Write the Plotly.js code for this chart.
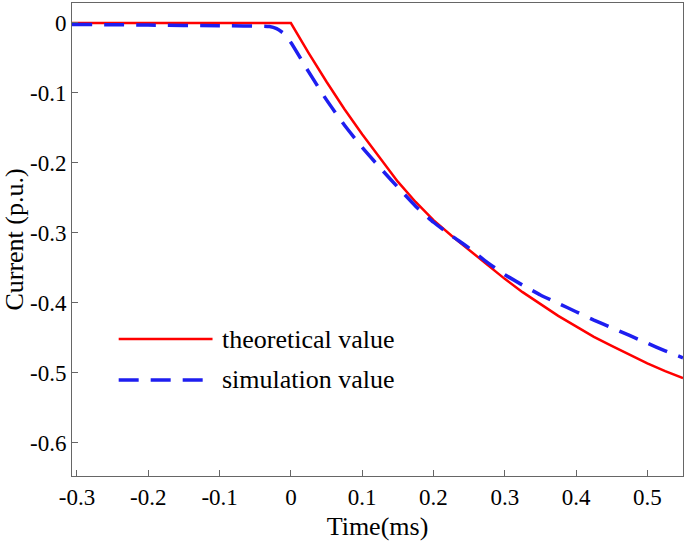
<!DOCTYPE html>
<html>
<head>
<meta charset="utf-8">
<script src="https://cdn.plot.ly/plotly-3.0.1.min.js"></script>
<style>
  html, body { margin: 0; padding: 0; background: #fff; }
  #plot { width: 685px; height: 552px; }
</style>
</head>
<body>
<div id="plot"></div>
<script>
// theoretical value (red, solid)
var theoryX = [-0.307, 0, 0.025, 0.05, 0.075, 0.1, 0.125, 0.15, 0.175, 0.2, 0.225, 0.25, 0.275,
  0.3, 0.325, 0.35, 0.375, 0.4, 0.425, 0.45, 0.475, 0.5, 0.525, 0.55];
var theoryY = [0, 0, -0.043, -0.084, -0.123, -0.159, -0.193, -0.227, -0.256, -0.282, -0.304, -0.325, -0.346,
  -0.366, -0.385, -0.402, -0.419, -0.434, -0.449, -0.462, -0.475, -0.487, -0.498, -0.508];

// simulation value (blue, dashed)
var simX = [-0.307, -0.2, -0.1, -0.03, -0.02, -0.01, 0, 0.025, 0.05, 0.075, 0.1, 0.125, 0.15, 0.175,
  0.2, 0.225, 0.25, 0.275, 0.3, 0.325, 0.35, 0.375, 0.4, 0.425, 0.45, 0.475, 0.5, 0.525, 0.55];
var simY = [-0.002, -0.003, -0.004, -0.005, -0.008, -0.015, -0.028, -0.07, -0.11, -0.146, -0.178, -0.207, -0.235, -0.262,
  -0.285, -0.304, -0.322, -0.342, -0.36, -0.375, -0.389, -0.401, -0.413, -0.425, -0.436, -0.447, -0.458, -0.469, -0.479];

var xTicks = [-0.3, -0.2, -0.1, 0, 0.1, 0.2, 0.3, 0.4, 0.5];
var yTicks = [0, -0.1, -0.2, -0.3, -0.4, -0.5, -0.6];
var legendNames = ['theoretical value', 'simulation value'];

var red = '#ff0000';
var blue = '#1e1ef0';
var serif = 'Liberation Serif, Times New Roman, serif';

var trace1 = {
  x: theoryX,
  y: theoryY,
  mode: 'lines',
  type: 'scatter',
  name: legendNames[0],
  line: { color: red, width: 2.5 }
};

var trace2 = {
  x: simX,
  y: simY,
  mode: 'lines',
  type: 'scatter',
  name: legendNames[1],
  line: { color: blue, width: 3.5, dash: '20px,12px', shape: 'spline', smoothing: 0.5 }
};

var axisCommon = {
  showgrid: false,
  zeroline: false,
  showline: true,
  linecolor: '#666',
  linewidth: 1,
  mirror: true,
  ticks: 'inside',
  ticklen: 6,
  tickcolor: '#666',
  tickfont: { family: serif, size: 23, color: '#000' }
};

var layout = {
  width: 685,
  height: 552,
  margin: { l: 72, r: 2, t: 3, b: 76 },
  paper_bgcolor: '#fff',
  plot_bgcolor: '#fff',
  showlegend: false,
  xaxis: Object.assign({}, axisCommon, {
    range: [-0.307, 0.55],
    tickvals: xTicks,
    ticktext: xTicks.map(String),
    title: { text: 'Time(ms)', font: { family: serif, size: 26, color: '#000' }, standoff: 8 }
  }),
  yaxis: Object.assign({}, axisCommon, {
    range: [-0.648, 0.0286],
    tickvals: yTicks,
    ticktext: yTicks.map(String),
    title: { text: 'Current (p.u.)', font: { family: serif, size: 26, color: '#000' }, standoff: 8 }
  }),
  // legend drawn by hand so the sample lines are as long as in the figure
  shapes: [
    { type: 'line', xref: 'paper', yref: 'paper', x0: 0.0764, x1: 0.230, y0: 0.2896, y1: 0.2896,
      line: { color: red, width: 2.5 } },
    { type: 'line', xref: 'paper', yref: 'paper', x0: 0.0764, x1: 0.218, y0: 0.203, y1: 0.203,
      line: { color: blue, width: 3.5, dash: '20px,12px' } }
  ],
  annotations: [
    { xref: 'paper', yref: 'paper', x: 0.242, y: 0.2896, xanchor: 'left', yanchor: 'middle',
      text: legendNames[0], showarrow: false, font: { family: serif, size: 26, color: '#000' } },
    { xref: 'paper', yref: 'paper', x: 0.242, y: 0.203, xanchor: 'left', yanchor: 'middle',
      text: legendNames[1], showarrow: false, font: { family: serif, size: 26, color: '#000' } }
  ]
};

Plotly.newPlot('plot', [trace1, trace2], layout, { staticPlot: true });
</script>
</body>
</html>
